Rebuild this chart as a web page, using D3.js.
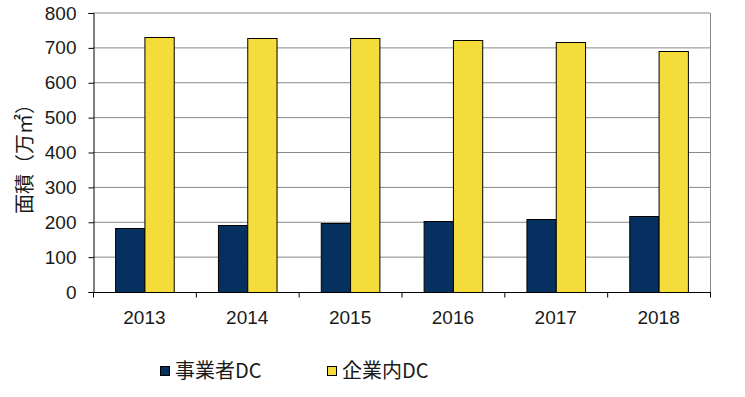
<!DOCTYPE html>
<html>
<head>
<meta charset="utf-8">
<script src="https://cdn.jsdelivr.net/npm/d3@7/dist/d3.min.js"></script>
<style>
  body { margin: 0; background: #fff; }
  text { font-family: "Liberation Sans", Arial, "Noto Sans CJK JP", sans-serif; }
</style>
</head>
<body>
<div id="chart"></div>
<script>
// data
var years = ["2013", "2014", "2015", "2016", "2017", "2018"];
var seriesNames = ["事業者DC", "企業内DC"];
var jigyosha = [183, 192, 197, 203, 209, 218];
var kigyonai = [731, 729, 729, 723, 717, 691];
var yTicks = [0, 100, 200, 300, 400, 500, 600, 700, 800];
var colors = ["#06305f", "#f4dc3a"];

var margin = { top: 13, right: 35, bottom: 105, left: 93 },
    width = 745 - margin.left - margin.right,
    height = 397 - margin.top - margin.bottom;

var svg = d3.select("#chart")
    .append("svg")
    .attr("width", 745)
    .attr("height", 397)
    .append("g")
    .attr("transform", "translate(" + margin.left + "," + margin.top + ")");

var x = d3.scaleBand()
    .domain(years)
    .range([0, width])
    .padding(0);

var x1 = d3.scaleBand()
    .domain(seriesNames)
    .range([x.bandwidth() * 0.215, x.bandwidth() * 0.785]);

var y = d3.scaleLinear()
    .domain([0, 800])
    .range([height, 0]);

// gridlines
svg.append("g")
    .selectAll("line")
    .data(yTicks.slice(1))
    .enter()
    .append("line")
    .attr("x1", 0)
    .attr("x2", width)
    .attr("y1", d => y(d))
    .attr("y2", d => y(d))
    .attr("stroke", "#888")
    .attr("stroke-width", 1);

// right border
svg.append("line")
    .attr("x1", width + 0.5).attr("x2", width + 0.5)
    .attr("y1", 0).attr("y2", height)
    .attr("stroke", "#888");

// bars
var rows = years.map((yr, i) => ({ year: yr, values: [jigyosha[i], kigyonai[i]] }));

svg.append("g")
    .selectAll("g")
    .data(rows)
    .enter()
    .append("g")
    .attr("transform", d => "translate(" + x(d.year) + ",0)")
    .selectAll("rect")
    .data(d => d.values.map((v, j) => ({ key: seriesNames[j], value: v, j: j })))
    .enter()
    .append("rect")
    .attr("x", d => x1(d.key) + 0.5)
    .attr("y", d => Math.round(y(d.value)) + 0.5)
    .attr("width", x1.bandwidth())
    .attr("height", d => height - Math.round(y(d.value)))
    .attr("fill", d => colors[d.j])
    .attr("stroke", "#000")
    .attr("stroke-width", 1);

// Y axis
var yAxis = svg.append("g")
    .attr("transform", "translate(0.5,0)")
    .call(d3.axisLeft(y).tickValues(yTicks).tickSize(5).tickPadding(12));
yAxis.select(".domain").attr("stroke", "#000");
yAxis.selectAll("text").style("font-size", "19px").attr("fill", "#1a1a1a");

// X axis
var xAxis = svg.append("g")
    .attr("transform", "translate(0," + (height + 0.5) + ")");
xAxis.append("line")
    .attr("x1", 0).attr("x2", width + 1)
    .attr("stroke", "#000");
xAxis.selectAll(".tk")
    .data(years.concat(["end"]))
    .enter()
    .append("line")
    .attr("class", "tk")
    .attr("x1", (d, i) => i * x.bandwidth() + 0.5)
    .attr("x2", (d, i) => i * x.bandwidth() + 0.5)
    .attr("y1", 0).attr("y2", 5)
    .attr("stroke", "#000");
xAxis.selectAll(".lbl")
    .data(years)
    .enter()
    .append("text")
    .attr("class", "lbl")
    .attr("x", d => x(d) + x.bandwidth() / 2)
    .attr("y", 31)
    .attr("text-anchor", "middle")
    .attr("fill", "#1a1a1a")
    .style("font-size", "19px")
    .text(d => d);

// Y label
svg.append("text")
    .attr("transform", "translate(" + (-61) + "," + (154 - margin.top) + ") rotate(-90)")
    .attr("text-anchor", "middle")
    .attr("fill", "#1a1a1a")
    .style("font-size", "20px")
    .style("font-family", "'Noto Sans CJK JP', sans-serif")
    .text("面積（万㎡）");

// legend
var legend = svg.append("g")
    .attr("transform", "translate(67," + (height + 79) + ")");
var legendX = [0, 167];
seriesNames.forEach((name, i) => {
    var g = legend.append("g").attr("transform", "translate(" + legendX[i] + ",0)");
    g.append("rect")
        .attr("x", 0.5).attr("y", -4.5)
        .attr("width", 9).attr("height", 9)
        .attr("fill", colors[i])
        .attr("stroke", "#000")
        .attr("stroke-width", 1);
    g.append("text")
        .attr("x", 15)
        .attr("y", 7)
        .attr("fill", "#1a1a1a")
        .style("font-size", "20px")
        .style("font-family", "'Noto Sans CJK JP', sans-serif")
        .text(name);
});
</script>
</body>
</html>
